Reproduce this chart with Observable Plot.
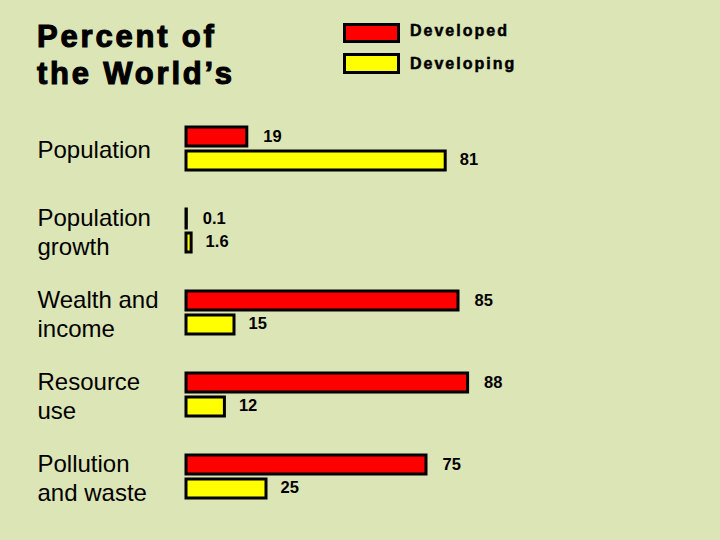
<!DOCTYPE html>
<html>
<head>
<meta charset="utf-8">
<script src="https://cdn.jsdelivr.net/npm/d3@7"></script>
<script src="https://cdn.jsdelivr.net/npm/@observablehq/plot@0.6"></script>
<style>
  html, body { margin: 0; padding: 0; background: #dce5b5; }
  #wrap { width: 720px; height: 540px; position: relative; font-family: "Liberation Sans", Arial, sans-serif; overflow: hidden; }
  #header { position: relative; height: 110px; }
  #title { position: absolute; left: 37px; top: 18px; font-size: 31px; line-height: 37px; font-weight: bold; letter-spacing: 2.8px; color: #000; -webkit-text-stroke: 1.1px #000; }
  .sw { position: absolute; left: 343px; width: 57px; box-sizing: border-box; border: 3px solid #000; }
  .lg { position: absolute; left: 410px; font-size: 16px; line-height: 20px; font-weight: bold; letter-spacing: 2px; color: #000; -webkit-text-stroke: 0.5px #000; }
  g[aria-label="values"] text { letter-spacing: 3.5px; stroke: #000; stroke-width: 0.8px; }
</style>
</head>
<body>
<div id="wrap">
  <div id="header">
    <div id="title">Percent of<br>the World’s</div>
  </div>
  <div id="chart"></div>
</div>
<script>
const categories = ["Population", "Population\ngrowth", "Wealth and\nincome", "Resource\nuse", "Pollution\nand waste"];
const developed = [19, 0.1, 85, 88, 75];
const developing = [81, 1.6, 15, 12, 25];
const seriesNames = ["Developed", "Developing"];
const seriesColors = ["#ff0000", "#ffff00"];

const rows = categories.map((c, i) => ({category: c, developed: developed[i], developing: developing[i]}));

// legend
const header = document.getElementById("header");
seriesNames.forEach((name, i) => {
  const sw = document.createElement("div");
  sw.className = "sw";
  sw.style.top = (i === 0 ? 23 : 53) + "px";
  sw.style.height = (i === 0 ? 20 : 21) + "px";
  sw.style.background = seriesColors[i];
  header.appendChild(sw);
  const t = document.createElement("div");
  t.className = "lg";
  t.style.top = (i === 0 ? 21 : 54) + "px";
  t.textContent = name;
  header.appendChild(t);
});

const chart = Plot.plot({
  width: 720,
  height: 430,
  marginLeft: 186,
  marginRight: 214,
  marginTop: 15,
  marginBottom: 39.5,
  style: {background: "transparent", fontFamily: "Liberation Sans, Arial, sans-serif", color: "#000"},
  x: {domain: [0, 100], axis: null},
  y: {domain: categories, paddingInner: 0.47, paddingOuter: 0, axis: null},
  marks: [
    Plot.barX(rows, {x: "developed", y: "category", fill: seriesColors[0], stroke: "#000", strokeWidth: 3, insetBottom: 24}),
    Plot.barX(rows, {x: "developing", y: "category", fill: seriesColors[1], stroke: "#000", strokeWidth: 3, insetTop: 24}),
    Plot.text(rows, {x: "developed", y: "category", text: d => String(d.developed), dx: 16, dy: -12, textAnchor: "start", fontWeight: "bold", fontSize: 16.5, fill: "#000", ariaLabel: "values"}),
    Plot.text(rows, {x: "developing", y: "category", text: d => String(d.developing), dx: 14, dy: 11, textAnchor: "start", fontWeight: "bold", fontSize: 16.5, fill: "#000", ariaLabel: "values"}),
    Plot.text(rows, {y: "category", text: "category", frameAnchor: "left", textAnchor: "start", dx: -149, fontSize: 24, lineHeight: 1.2, fill: "#000", ariaLabel: "labels"})
  ]
});
document.getElementById("chart").appendChild(chart);
</script>
</body>
</html>
